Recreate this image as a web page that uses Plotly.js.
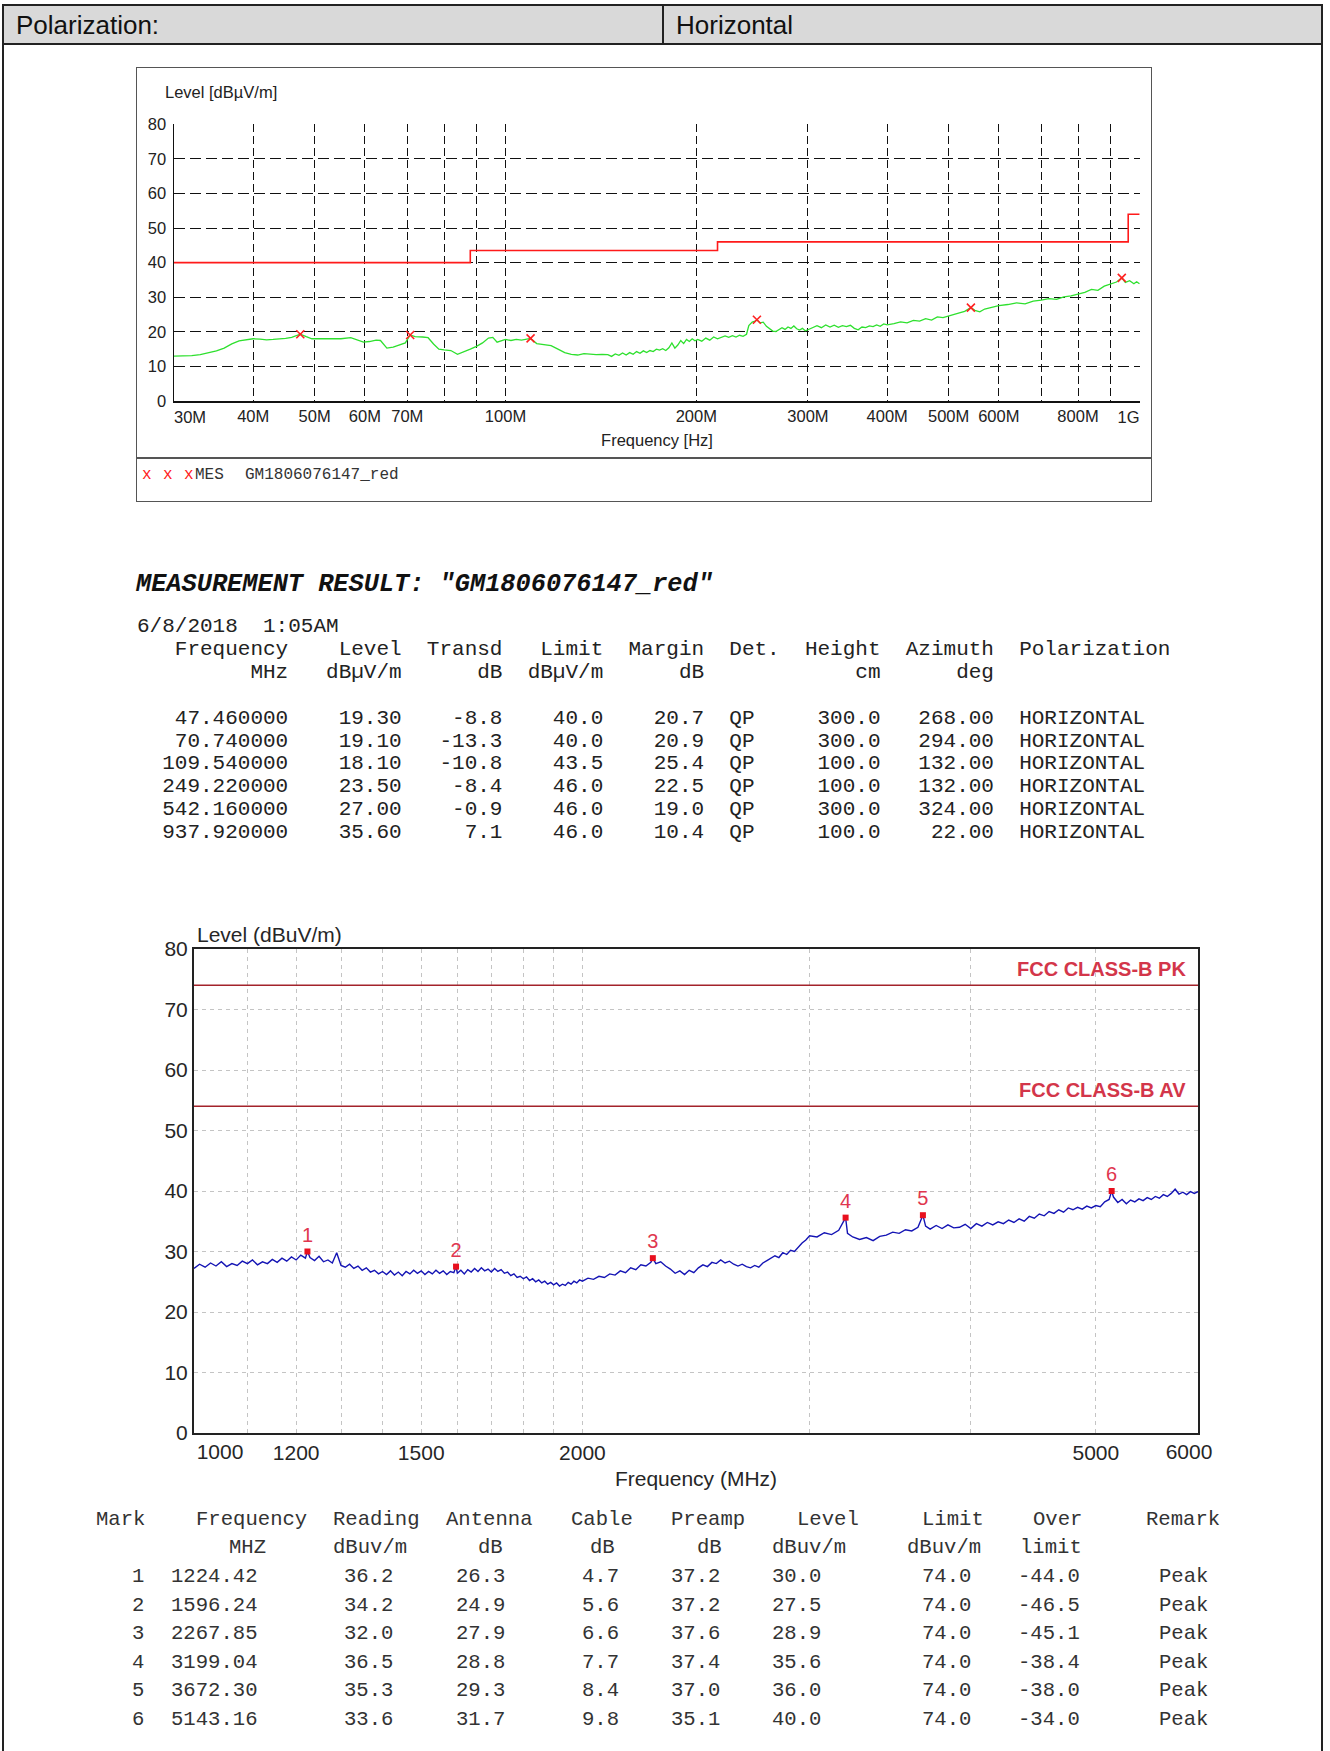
<!DOCTYPE html>
<html>
<head>
<meta charset="utf-8">
<script src="https://cdn.plot.ly/plotly-3.0.1.min.js"></script>
<style>
html,body{margin:0;padding:0;background:#fff;}
body{width:1330px;height:1751px;position:relative;overflow:hidden;font-family:"Liberation Sans",Arial,sans-serif;color:#111;}
.a{position:absolute;white-space:pre;}
.mono{font-family:"Liberation Mono","Courier New",monospace;}
</style>
</head>
<body>
<div class="a" style="left:2px;top:4px;width:1321px;height:1800px;box-sizing:border-box;border:2px solid #222;"></div>
<div class="a" style="left:2px;top:4px;width:1321px;height:41px;box-sizing:border-box;border:2px solid #222;background:#d9d9d9;"></div>
<div class="a" style="left:662px;top:4px;width:2px;height:41px;background:#222;"></div>
<div class="a" id="hdrL" style="left:16px;top:25px;transform:translateY(-50%);font-size:26px;"></div>
<div class="a" id="hdrR" style="left:676px;top:25px;transform:translateY(-50%);font-size:26px;"></div>

<div class="a" style="left:136px;top:67px;width:1016px;height:435px;box-sizing:border-box;border:1.5px solid #555;"></div>
<div class="a" style="left:136px;top:457px;width:1016px;height:1.5px;background:#555;"></div>
<div class="a" id="chart1" style="left:136px;top:67px;width:1016px;height:391px;"></div>
<div class="a mono" id="legend1" style="left:0;top:475px;font-size:16px;"></div>

<div class="a mono" id="mtitle" style="left:136px;top:584px;transform:translateY(-50%);font-size:25.3px;font-weight:bold;font-style:italic;color:#111;"></div>
<pre class="a mono" id="table1" style="left:137px;top:616px;margin:0;font-size:21px;line-height:22.9px;color:#222;"></pre>

<div class="a" id="chart2" style="left:140px;top:910px;width:1100px;height:580px;"></div>
<div id="table2"></div>

<script>
// ---------- header ----------
const headerLabel = 'Polarization:';
const headerValue = 'Horizontal';

// ---------- measurement result table (30 MHz - 1 GHz) ----------
const t1Title = 'MEASUREMENT RESULT: "GM1806076147_red"';
const t1Date = '6/8/2018  1:05AM';
const t1Freq = [47.46, 70.74, 109.54, 249.22, 542.16, 937.92];
const t1Level = [19.30, 19.10, 18.10, 23.50, 27.00, 35.60];
const t1Transd = [-8.8, -13.3, -10.8, -8.4, -0.9, 7.1];
const t1Limit = [40.0, 40.0, 43.5, 46.0, 46.0, 46.0];
const t1Margin = [20.7, 20.9, 25.4, 22.5, 19.0, 10.4];
const t1Det = ['QP', 'QP', 'QP', 'QP', 'QP', 'QP'];
const t1Height = [300.0, 300.0, 100.0, 100.0, 300.0, 100.0];
const t1Azimuth = [268.00, 294.00, 132.00, 132.00, 324.00, 22.00];
const t1Pol = ['HORIZONTAL', 'HORIZONTAL', 'HORIZONTAL', 'HORIZONTAL', 'HORIZONTAL', 'HORIZONTAL'];

// ---------- chart 1 scan (MHz, dBuV/m) ----------
const c1Freq = [
 30,31,32,33,34,35,36,37,38,39,
 40,41,42,43,44,45,46,47.46,48.5,49.5,
 51,53,55,57,58.5,59.7,61,62.5,63.5,65,
 66.5,68,69.5,70.74,72,74,75.5,77,78.5,80,
 82,84,86,88,90,92,94,95.5,97,98.5,
 100,102,104,106,109.54,112,115,118,121,124,
 127,130,133,136,139,142,145,147,149,151,
 153,155,157,159,161,163,165,167,169,171,
 173,175,177,179,181,183,185,187,189,191,
 193,195,197,199,201,204,207,210,213,216,
 219,222,225,228,231,234,237,240,242,245,
 247,249.22,252,255,258,261,264,267,270,273,
 276,279,282,285,288,291,294,297,300,305,
 310,315,320,325,330,335,340,345,350,355,
 360,365,370,375,380,385,390,395,400,410,
 420,430,440,450,460,470,480,490,500,510,
 520,530,542.16,550,560,570,580,590,600,620,
 640,660,680,700,720,740,760,780,800,820,
 840,860,880,900,920,937.92,950,965,980,990,
 1000];
const c1Level = [
 13.0,13.0,13.1,13.4,13.9,14.5,15.3,16.5,17.4,17.8,
 18.0,17.9,17.7,17.8,17.9,18.1,18.4,19.3,18.6,18.0,
 18.0,17.9,18.0,18.3,17.6,17.0,17.2,17.6,17.5,15.3,
 15.6,16.2,16.8,19.1,18.6,18.5,18.3,16.5,15.0,14.8,
 14.6,13.5,14.2,15.0,15.8,16.8,18.2,18.4,17.0,17.3,
 17.8,17.5,17.8,17.6,18.1,16.6,16.2,16.0,15.0,14.0,
 13.5,13.3,13.7,13.5,13.4,13.5,13.4,12.9,13.6,13.2,
 13.9,13.3,14.0,13.5,14.3,13.8,14.5,14.0,14.6,14.3,
 15.0,14.7,15.1,14.6,15.4,16.8,15.3,16.2,17.5,16.6,
 17.8,17.2,18.0,17.4,17.8,17.3,18.2,17.6,18.5,18.0,
 18.3,18.8,18.4,18.9,18.5,19.0,18.7,19.3,21.8,22.8,
 23.0,23.5,22.6,22.8,21.6,20.8,20.2,20.1,20.6,21.2,
 20.7,21.4,21.0,21.7,20.9,20.5,21.0,20.3,20.6,21.3,
 21.8,21.2,22.0,21.4,21.9,21.3,21.8,21.5,21.9,21.0,
 20.6,21.4,21.2,21.7,21.5,22.0,21.6,22.3,22.0,22.4,
 22.9,22.6,23.3,23.1,23.8,23.4,24.3,24.1,24.6,25.2,
 25.5,25.9,27.0,26.2,25.8,26.6,26.9,27.1,27.6,27.9,
 28.4,28.1,28.9,29.2,29.6,29.4,30.1,30.4,31.0,31.4,
 32.3,32.0,33.2,33.8,34.4,35.6,34.3,34.8,33.9,34.5,
 33.9];
// FCC limit steps (MHz, dBuV/m)
const c1LimitFreq = [30, 88, 216, 960, 1000];
const c1LimitLevel = [40, 43.5, 46, 54, 54];
// axis grid / tick labels
const c1GridMHz = [40,50,60,70,80,90,100,200,300,400,500,600,700,800,900,1000];
const c1GridText = ['40M','50M','60M','70M','','','100M','200M','300M','400M','500M','600M','','800M','',''];
const c1YTicks = [0,10,20,30,40,50,60,70,80];
const c1LegendName = 'MES';
const c1LegendFile = 'GM1806076147_red';

// ---------- chart 2 scan (MHz, dBuV/m) ----------
const c2Freq = [
 1000,1010,1020,1030,1040,1050,1060,1070,1080,1090,
 1100,1110,1120,1130,1140,1150,1160,1170,1180,1190,
 1200,1210,1220,1224.42,1230,1240,1250,1260,1270,1280,
 1290,1300,1310,1320,1330,1340,1350,1360,1370,1380,
 1390,1400,1410,1420,1430,1440,1450,1460,1470,1480,
 1490,1500,1510,1520,1530,1540,1550,1560,1570,1580,
 1590,1596.24,1600,1610,1620,1630,1640,1650,1660,1670,
 1680,1690,1700,1710,1720,1730,1740,1750,1760,1770,
 1780,1790,1800,1810,1820,1830,1840,1850,1860,1870,
 1880,1890,1900,1910,1920,1930,1940,1950,1960,1970,
 1980,1990,2000,2020,2040,2060,2080,2100,2120,2140,
 2160,2180,2200,2220,2240,2260,2267.85,2280,2300,2320,
 2340,2360,2380,2400,2420,2440,2460,2480,2500,2520,
 2540,2560,2580,2600,2620,2640,2660,2680,2700,2720,
 2740,2760,2780,2800,2820,2840,2860,2880,2900,2920,
 2940,2960,2980,3000,3040,3080,3120,3160,3199.04,3210,
 3240,3280,3320,3360,3400,3440,3480,3520,3560,3600,
 3640,3672.30,3690,3720,3760,3800,3840,3880,3920,3960,
 4000,4040,4080,4120,4160,4200,4240,4280,4320,4360,
 4400,4440,4480,4520,4560,4600,4640,4680,4720,4760,
 4800,4840,4880,4920,4960,5000,5040,5080,5120,5143.16,
 5160,5200,5240,5280,5320,5360,5400,5440,5480,5520,
 5560,5600,5640,5680,5720,5760,5800,5840,5880,5920,
 5960,6000];
const c2Level = [
 27.2,27.9,27.4,28.1,27.6,28.3,27.5,28.0,27.7,28.4,
 28.0,28.6,27.8,28.3,28.0,28.7,28.2,28.9,28.4,29.1,
 28.6,29.4,28.9,30.0,29.0,28.5,29.2,28.3,28.6,28.1,
 29.8,27.7,27.4,27.9,27.2,27.6,26.9,27.3,26.6,26.9,
 26.3,26.7,26.2,26.8,26.1,26.6,26.0,26.7,26.3,26.9,
 26.4,26.8,26.2,26.7,26.3,26.9,26.4,26.8,26.2,26.7,
 26.5,27.5,26.4,26.9,26.3,27.0,26.6,27.2,26.7,27.3,
 26.8,27.1,26.6,27.2,26.7,27.0,26.4,26.6,26.0,26.3,
 25.7,25.9,25.5,25.8,25.2,25.5,25.0,25.3,24.8,25.1,
 24.6,24.9,24.5,24.8,24.3,24.6,24.4,24.9,24.6,25.1,
 24.8,25.3,25.1,25.6,25.4,25.9,25.7,26.3,26.1,26.8,
 26.5,27.3,27.0,27.8,27.6,28.2,28.9,28.0,28.3,27.6,
 27.1,26.4,26.8,26.2,26.9,26.5,27.3,27.8,27.5,28.2,
 28.0,28.6,28.1,28.4,27.9,27.6,27.9,27.5,27.3,27.7,
 27.4,28.1,28.5,28.9,29.3,29.0,29.8,29.5,30.2,30.0,
 30.8,31.4,31.9,32.6,32.4,33.1,32.8,33.5,35.6,33.0,
 32.4,32.0,32.3,31.8,32.5,32.7,33.2,33.0,33.6,33.4,
 34.0,36.0,34.2,33.7,34.3,33.8,34.4,33.9,34.0,34.5,
 33.8,34.6,34.2,34.8,34.4,34.9,34.6,35.2,34.8,35.4,
 35.0,35.8,35.5,36.2,35.9,36.6,36.3,36.9,36.5,37.2,
 36.9,37.3,37.0,37.5,37.2,37.6,37.4,38.2,38.6,40.0,
 39.0,38.1,38.6,37.9,38.5,38.2,38.7,38.4,38.9,38.6,
 39.1,38.8,39.4,39.1,39.6,40.3,39.5,39.8,39.4,39.9,
 39.6,39.9];
const c2LimitFreq = [1000, 6000];
const c2LimitPK = [74, 74];
const c2LimitAV = [54, 54];
const c2LimitNames = ['FCC CLASS-B PK', 'FCC CLASS-B AV'];
const c2GridMHz = [1100,1200,1300,1400,1500,1600,1700,1800,1900,2000,3000,4000,5000];
const c2GridText = ['','1200','','','1500','','','','','2000','','','5000'];
const c2YTicks = [0,10,20,30,40,50,60,70,80];

// ---------- marker table (1 - 6 GHz) ----------
const t2Mark = [1, 2, 3, 4, 5, 6];
const t2Freq = [1224.42, 1596.24, 2267.85, 3199.04, 3672.30, 5143.16];
const t2Reading = [36.2, 34.2, 32.0, 36.5, 35.3, 33.6];
const t2Antenna = [26.3, 24.9, 27.9, 28.8, 29.3, 31.7];
const t2Cable = [4.7, 5.6, 6.6, 7.7, 8.4, 9.8];
const t2Preamp = [37.2, 37.2, 37.6, 37.4, 37.0, 35.1];
const t2Level = [30.0, 27.5, 28.9, 35.6, 36.0, 40.0];
const t2Limit = [74.0, 74.0, 74.0, 74.0, 74.0, 74.0];
const t2Over = [-44.0, -46.5, -45.1, -38.4, -38.0, -34.0];
const t2Remark = ['Peak', 'Peak', 'Peak', 'Peak', 'Peak', 'Peak'];

// ================= render text parts =================
document.getElementById('hdrL').textContent = headerLabel;
document.getElementById('hdrR').textContent = headerValue;
document.getElementById('mtitle').textContent = t1Title;

(function(){
  const L = [];
  L.push(t1Date);
  L.push('Frequency'.padStart(12) + 'Level'.padStart(9) + 'Transd'.padStart(8) + 'Limit'.padStart(8) +
         'Margin'.padStart(8) + '  Det.' + 'Height'.padStart(8) + 'Azimuth'.padStart(9) + '  Polarization');
  L.push('MHz'.padStart(12) + 'dBµV/m'.padStart(9) + 'dB'.padStart(8) + 'dBµV/m'.padStart(8) +
         'dB'.padStart(8) + 'cm'.padStart(14) + 'deg'.padStart(9));
  L.push('');
  for (let i = 0; i < t1Freq.length; i++) {
    L.push(t1Freq[i].toFixed(6).padStart(12) + t1Level[i].toFixed(2).padStart(9) +
           t1Transd[i].toFixed(1).padStart(8) + t1Limit[i].toFixed(1).padStart(8) +
           t1Margin[i].toFixed(1).padStart(8) + '  ' + t1Det[i] +
           t1Height[i].toFixed(1).padStart(10) + t1Azimuth[i].toFixed(2).padStart(9) + '  ' + t1Pol[i]);
  }
  document.getElementById('table1').textContent = L.join('\n');
})();

(function(){
  const lg = document.getElementById('legend1');
  const xs = [142, 163, 184];
  let html = '';
  xs.forEach(x => { html += '<span class="a" style="left:'+x+'px;top:0;transform:translateY(-50%);color:#ff2020;">x</span>'; });
  html += '<span class="a" style="left:195px;top:0;transform:translateY(-50%);color:#333;">' + c1LegendName + '</span>';
  html += '<span class="a" style="left:245px;top:0;transform:translateY(-50%);color:#333;">' + c1LegendFile + '</span>';
  lg.innerHTML = html;
})();

(function(){
  const cols = [
    {h1:'Mark', h2:'', x1:96, x2:0, xv:132, vals:t2Mark.map(String)},
    {h1:'Frequency', h2:'MHZ', x1:196, x2:229, xv:171, vals:t2Freq.map(v=>v.toFixed(2))},
    {h1:'Reading', h2:'dBuv/m', x1:333, x2:333, xv:344, vals:t2Reading.map(v=>v.toFixed(1))},
    {h1:'Antenna', h2:'dB', x1:446, x2:478, xv:456, vals:t2Antenna.map(v=>v.toFixed(1))},
    {h1:'Cable', h2:'dB', x1:571, x2:590, xv:582, vals:t2Cable.map(v=>v.toFixed(1))},
    {h1:'Preamp', h2:'dB', x1:671, x2:697, xv:671, vals:t2Preamp.map(v=>v.toFixed(1))},
    {h1:'Level', h2:'dBuv/m', x1:797, x2:772, xv:772, vals:t2Level.map(v=>v.toFixed(1))},
    {h1:'Limit', h2:'dBuv/m', x1:922, x2:907, xv:922, vals:t2Limit.map(v=>v.toFixed(1))},
    {h1:'Over', h2:'limit', x1:1033, x2:1020, xv:1018, vals:t2Over.map(v=>v.toFixed(1))},
    {h1:'Remark', h2:'', x1:1146, x2:0, xv:1159, vals:t2Remark}
  ];
  const st = 'font-size:20.6px;color:#333;transform:translateY(-50%);';
  let html = '';
  const cell = (x, y, t) => '<div class="a mono" style="left:'+x+'px;top:'+y+'px;'+st+'">'+t+'</div>';
  cols.forEach(c => {
    html += cell(c.x1, 1519, c.h1);
    if (c.h2) html += cell(c.x2, 1547, c.h2);
    c.vals.forEach((v, i) => { html += cell(c.xv, (1576 + 28.5 * i).toFixed(1), v); });
  });
  document.getElementById('table2').innerHTML = html;
})();

// ================= chart 1 =================
const MHz = v => v * 1e6;
const c1Range = [Math.log10(MHz(30)), Math.log10(MHz(1002))];
const f1 = 'Liberation Sans, Arial, sans-serif';
const c1Tick = {family: f1, size: 16.5, color: '#222'};

const c1Traces = [
  {x: c1Freq.map(MHz), y: c1Level, type: 'scatter', mode: 'lines',
   line: {color: '#2ee02e', width: 1.3}, xaxis: 'x', yaxis: 'y'},
  {x: c1LimitFreq.map(MHz), y: c1LimitLevel, type: 'scatter', mode: 'lines',
   line: {color: '#ff1a1a', width: 1.6, shape: 'hv'}, xaxis: 'x2', yaxis: 'y'},
  {x: t1Freq.map(MHz), y: t1Level, type: 'scatter', mode: 'markers',
   marker: {symbol: 'x-thin-open', size: 8, color: '#ff2020', line: {width: 1.6, color: '#ff2020'}},
   xaxis: 'x3', yaxis: 'y'}
];
const edgeAxis = (vals, text, shift, range, font, standoff) => ({
  overlaying: 'x', anchor: 'y', type: 'log', range: range, tickmode: 'array',
  tickvals: vals, ticktext: text, ticklabelshift: shift, showgrid: false, showline: false,
  zeroline: false, ticks: '', tickfont: font, ticklabelstandoff: standoff, fixedrange: true
});
const c1Layout = {
  width: 1016, height: 391, margin: {l: 38, r: 12, t: 57, b: 57, pad: 0},
  paper_bgcolor: 'rgba(0,0,0,0)', plot_bgcolor: 'rgba(0,0,0,0)', showlegend: false,
  font: {family: f1, color: '#222'},
  xaxis: {type: 'log', range: c1Range, tickmode: 'array', tickvals: c1GridMHz.map(MHz), ticktext: c1GridText,
    showgrid: true, gridcolor: '#111', gridwidth: 1, griddash: '8px,4px',
    showline: true, linecolor: '#111', linewidth: 1.5, zeroline: false, ticks: '',
    tickfont: c1Tick, ticklabelstandoff: 0,
    title: {text: 'Frequency [Hz]', font: {family: f1, size: 16.5, color: '#222'}, standoff: 10}},
  xaxis2: edgeAxis([MHz(30)], ['30M'], 16, c1Range, c1Tick, 4),
  xaxis3: edgeAxis([MHz(1000)], ['1G'], -11, c1Range, c1Tick, 4),
  yaxis: {range: [0, 80.1], tickmode: 'array', tickvals: c1YTicks,
    showgrid: true, gridcolor: '#111', gridwidth: 1, griddash: '11px,5px',
    showline: true, linecolor: '#111', linewidth: 1.5, zeroline: false, ticks: '',
    tickfont: c1Tick, ticklabelstandoff: 3},
  annotations: [{xref: 'paper', yref: 'paper', x: -0.0114, y: 1.1155, xanchor: 'left', yanchor: 'middle',
    text: 'Level [dBµV/m]', showarrow: false, font: {family: f1, size: 16.5, color: '#222'}}]
};
Plotly.newPlot('chart1', c1Traces, c1Layout, {staticPlot: true, displayModeBar: false});

// ================= chart 2 =================
const c2Range = [Math.log10(1000), Math.log10(6000)];
const c2Tick = {family: f1, size: 21, color: '#262626'};
const c2Traces = [
  {x: c2Freq, y: c2Level, type: 'scatter', mode: 'lines',
   line: {color: '#1414b4', width: 1.4}, xaxis: 'x', yaxis: 'y'},
  {x: c2LimitFreq, y: c2LimitPK, type: 'scatter', mode: 'lines',
   line: {color: '#a3232b', width: 1.6}, xaxis: 'x', yaxis: 'y'},
  {x: c2LimitFreq, y: c2LimitAV, type: 'scatter', mode: 'lines',
   line: {color: '#a3232b', width: 1.6}, xaxis: 'x3', yaxis: 'y'},
  {x: t2Freq, y: t2Level, type: 'scatter', mode: 'markers+text', text: t2Mark.map(String),
   textposition: 'top center', textfont: {family: f1, size: 20, color: '#e0374f'},
   marker: {symbol: 'square', size: 6, color: '#e8101e'}, xaxis: 'x2', yaxis: 'y'}
];
const c2Layout = {
  width: 1100, height: 580, margin: {l: 54, r: 42, t: 39, b: 57, pad: 0},
  paper_bgcolor: 'rgba(0,0,0,0)', plot_bgcolor: 'rgba(0,0,0,0)', showlegend: false,
  font: {family: f1, color: '#262626'},
  xaxis: {type: 'log', range: c2Range, tickmode: 'array', tickvals: c2GridMHz, ticktext: c2GridText,
    showgrid: true, gridcolor: '#c4c4c4', gridwidth: 1, griddash: '4px,4px',
    showline: true, mirror: true, linecolor: '#222', linewidth: 2, zeroline: false, ticks: '',
    tickfont: c2Tick, ticklabelstandoff: 0,
    title: {text: 'Frequency (MHz)', font: {family: f1, size: 21, color: '#262626'}, standoff: 10}},
  xaxis2: edgeAxis([1000], ['1000'], 26, c2Range, c2Tick, 4),
  xaxis3: edgeAxis([6000], ['6000'], -9, c2Range, c2Tick, 4),
  yaxis: {range: [0, 80], tickmode: 'array', tickvals: c2YTicks,
    showgrid: true, gridcolor: '#c4c4c4', gridwidth: 1, griddash: '4px,4px',
    showline: true, mirror: true, linecolor: '#222', linewidth: 2, zeroline: false, ticks: '',
    tickfont: c2Tick, ticklabelstandoff: 0},
  annotations: [
    {xref: 'paper', yref: 'paper', x: 0.001, y: 1.029, xanchor: 'left', yanchor: 'middle',
     text: 'Level (dBuV/m)', showarrow: false, font: {family: f1, size: 21, color: '#262626'}},
    {xref: 'paper', yref: 'y', x: 1, y: c2LimitPK[0], xanchor: 'right', yanchor: 'bottom', xshift: -10, yshift: 3,
     text: c2LimitNames[0], showarrow: false, font: {family: f1, size: 20, color: '#d3364a', weight: 'bold'}},
    {xref: 'paper', yref: 'y', x: 1, y: c2LimitAV[0], xanchor: 'right', yanchor: 'bottom', xshift: -10, yshift: 3,
     text: c2LimitNames[1], showarrow: false, font: {family: f1, size: 20, color: '#d3364a', weight: 'bold'}}
  ]
};
Plotly.newPlot('chart2', c2Traces, c2Layout, {staticPlot: true, displayModeBar: false});
</script>
</body>
</html>
